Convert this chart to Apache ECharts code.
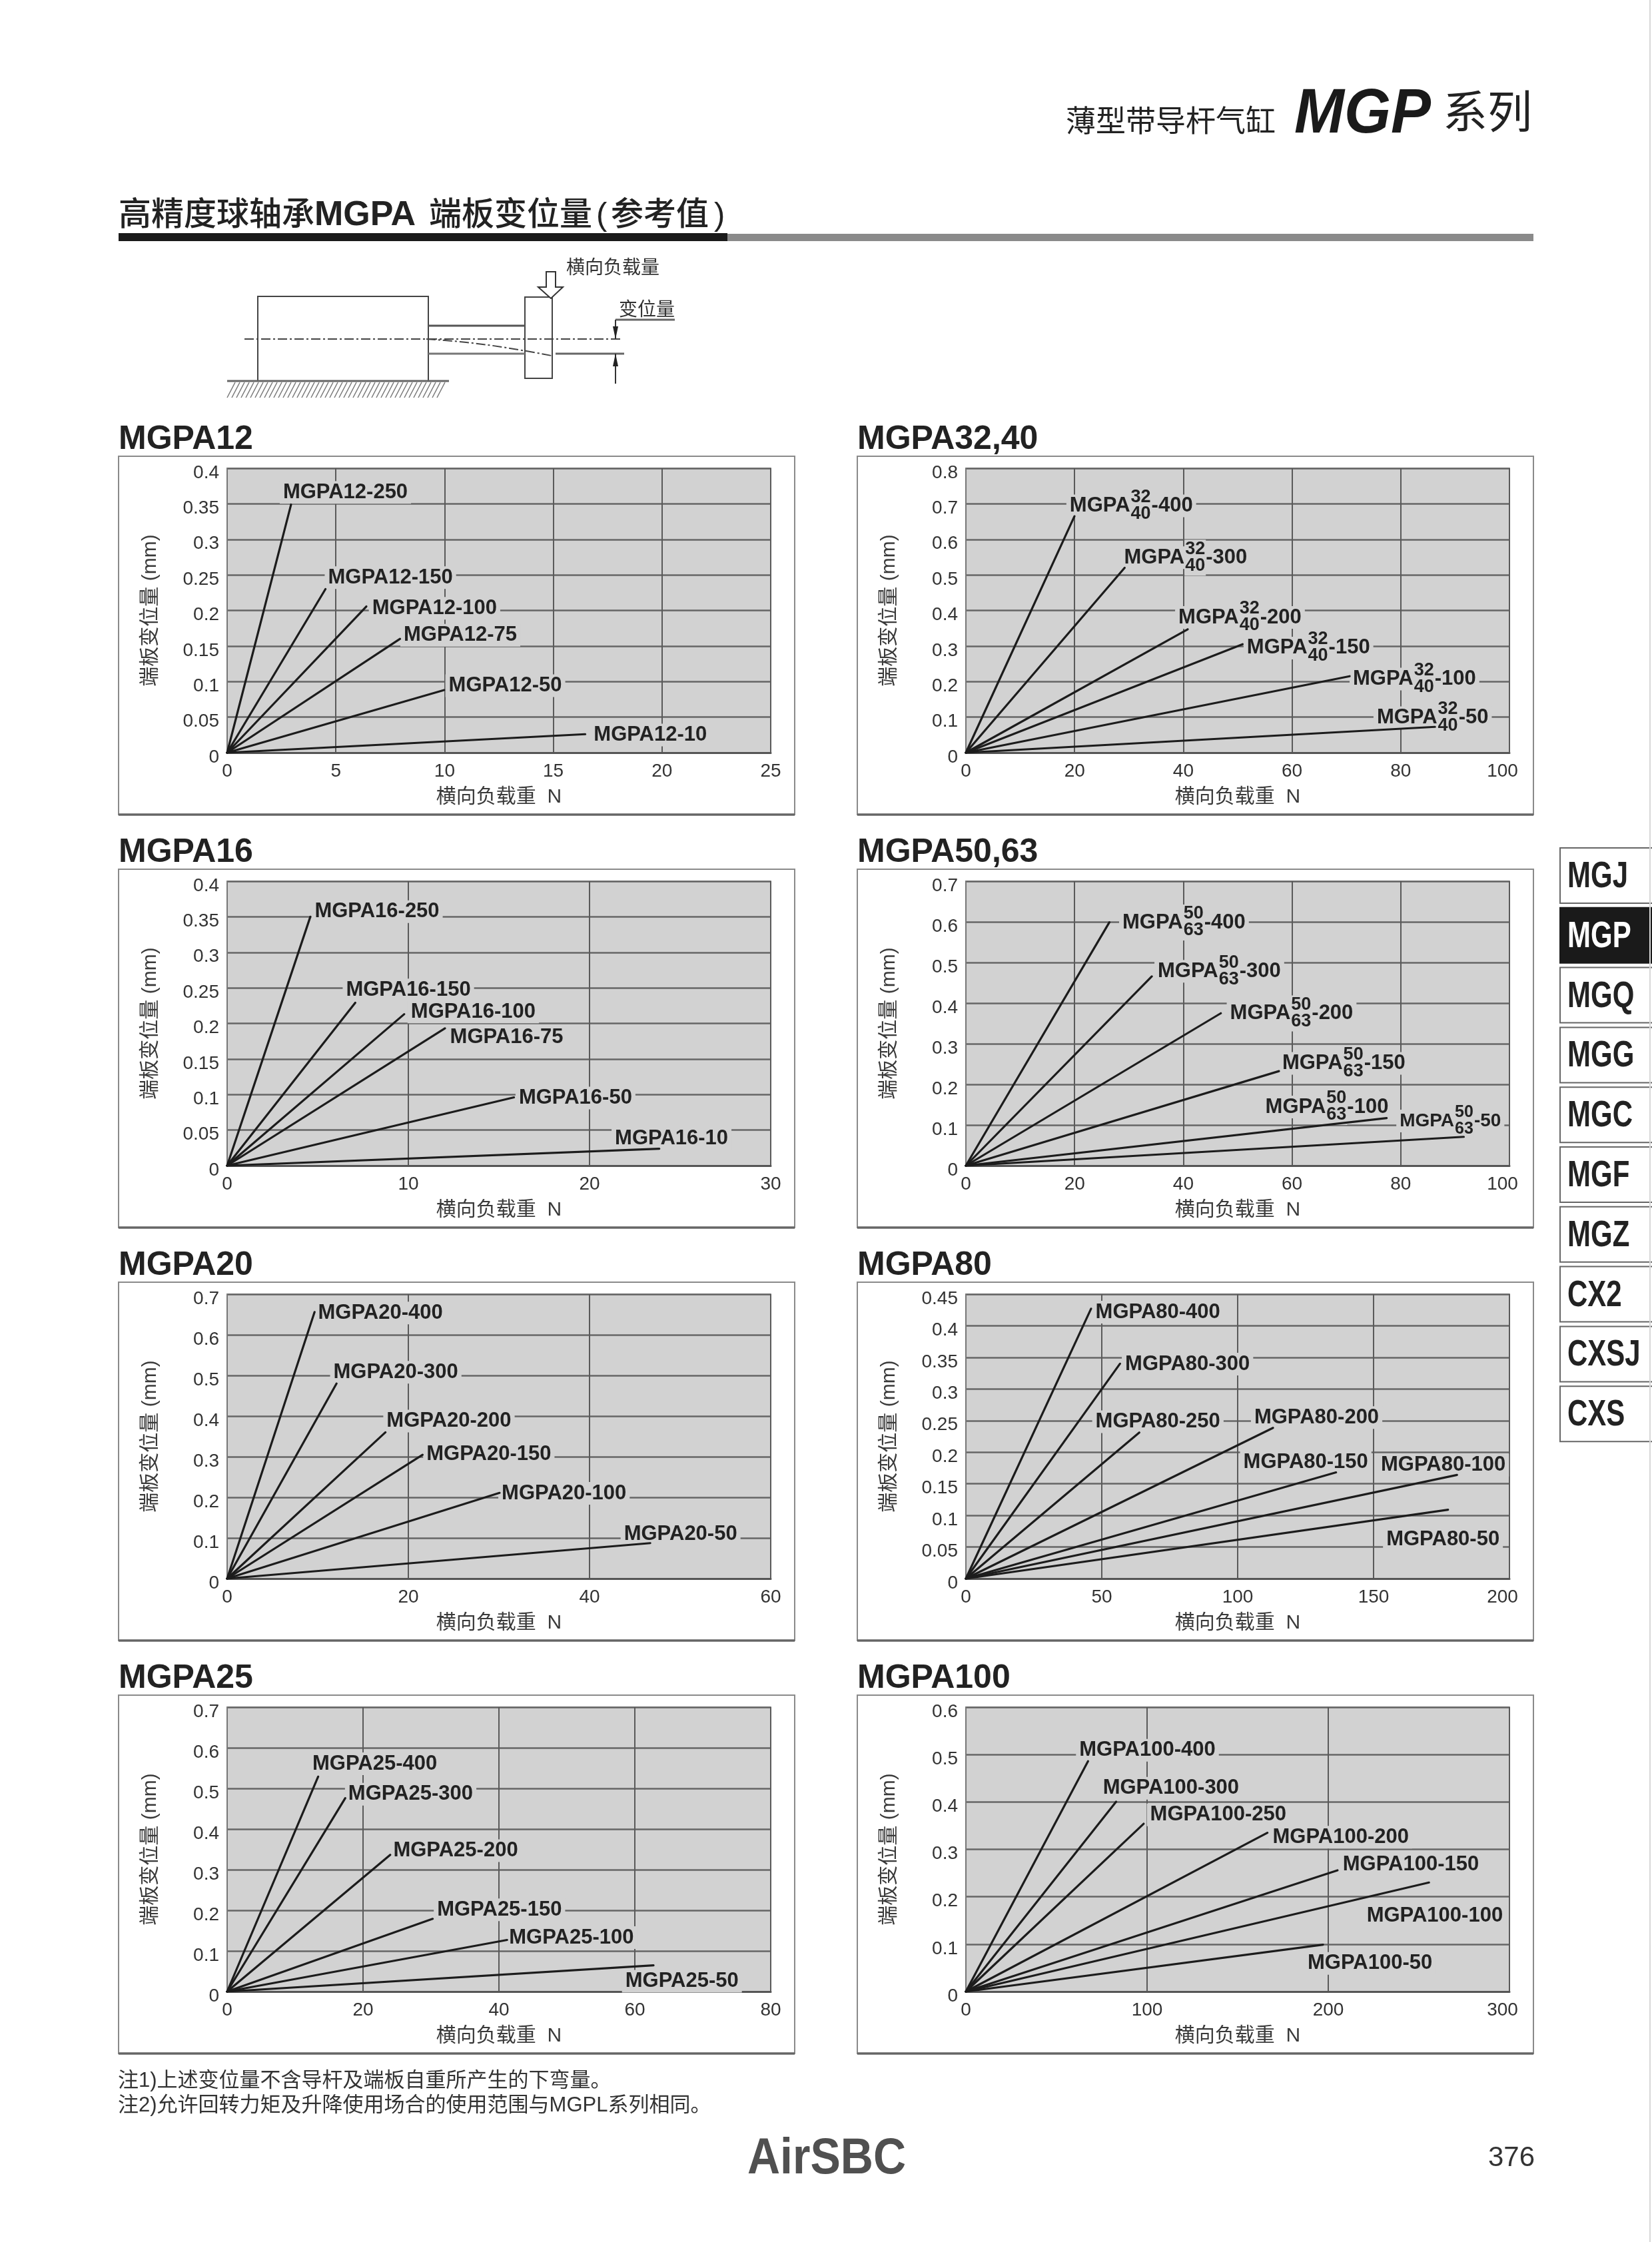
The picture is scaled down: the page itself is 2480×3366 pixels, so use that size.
<!DOCTYPE html>
<html>
<head>
<meta charset="utf-8">
<script src="https://cdn.jsdelivr.net/npm/echarts@6/dist/echarts.min.js"></script>
<style>html,body{margin:0;padding:0;background:#fff}#c{width:2480px;height:3366px}</style>
</head>
<body>
<div id="c"></div>
<script>
// ---- chart data ----
const mgpa12Strokes = [250, 150, 100, 75, 50, 10];
const mgpa12Load = [2.94, 4.52, 6.4, 7.95, 9.98, 16.47];
const mgpa12Disp = [0.349, 0.23, 0.2056, 0.16, 0.088, 0.026];
const mgpa12LabelX = [2.57, 4.64, 6.67, 8.12, 10.19, 16.86];
const mgpa12LabelY = [0.368, 0.248, 0.205, 0.167, 0.096, 0.0267];

const mgpa16Strokes = [250, 150, 100, 75, 50, 10];
const mgpa16Load = [4.59, 7.07, 9.77, 12.02, 15.83, 23.85];
const mgpa16Disp = [0.35, 0.229, 0.213, 0.193, 0.096, 0.0238];
const mgpa16LabelX = [4.83, 6.56, 10.14, 12.3, 16.1, 21.4];
const mgpa16LabelY = [0.359, 0.249, 0.218, 0.1825, 0.097, 0.04];

const mgpa20Strokes = [400, 300, 200, 150, 100, 50];
const mgpa20Load = [9.65, 12.07, 17.47, 21.57, 30.07, 46.7];
const mgpa20Disp = [0.656, 0.48, 0.36, 0.3046, 0.211, 0.0873];
const mgpa20LabelX = [10.04, 11.73, 17.6, 22, 30.3, 43.8];
const mgpa20LabelY = [0.657, 0.511, 0.391, 0.3087, 0.213, 0.113];

const mgpa25Strokes = [400, 300, 200, 150, 100, 50];
const mgpa25Load = [13.39, 17.38, 24, 30.25, 41.2, 62.75];
const mgpa25Disp = [0.529, 0.476, 0.3365, 0.179, 0.127, 0.0645];
const mgpa25LabelX = [12.55, 17.83, 24.45, 30.9, 41.5, 58.6];
const mgpa25LabelY = [0.564, 0.489, 0.35, 0.2046, 0.136, 0.0287];

const mgpa3240Strokes = [400, 300, 200, 150, 100, 50];
const mgpa3240Load = [19.97, 29.2, 40.8, 50.9, 70.6, 86.3];
const mgpa3240Disp = [0.665, 0.52, 0.347, 0.305, 0.215, 0.0726];
const mgpa3240LabelX = [19.1, 29.1, 39.1, 51.7, 71.2, 75.6];
const mgpa3240LabelY = [0.698, 0.552, 0.384, 0.298, 0.211, 0.102];

const mgpa5063Strokes = [400, 300, 200, 150, 100, 50];
const mgpa5063Load = [26.4, 34.2, 46.9, 57.6, 77.4, 91.6];
const mgpa5063Disp = [0.599, 0.4657, 0.375, 0.2326, 0.117, 0.0709];
const mgpa5063LabelX = [28.8, 35.3, 48.6, 58.2, 55.1, 79.8];
const mgpa5063LabelY = [0.6016, 0.4815, 0.378, 0.255, 0.1476, 0.113];

const mgpa80Strokes = [400, 300, 250, 200, 150, 100, 50];
const mgpa80Load = [46.05, 56.7, 63.8, 113, 136.2, 180.7, 177.4];
const mgpa80Disp = [0.427, 0.34, 0.231, 0.2385, 0.168, 0.164, 0.109];
const mgpa80LabelX = [47.7, 58.6, 47.7, 106.1, 102.1, 152.7, 154.7];
const mgpa80LabelY = [0.4236, 0.3415, 0.2504, 0.2568, 0.1864, 0.1815, 0.064];

const mgpa100Strokes = [400, 300, 250, 200, 150, 100, 50];
const mgpa100Load = [67.4, 82.9, 98.1, 166.4, 205.1, 255.6, 197.1];
const mgpa100Disp = [0.486, 0.4005, 0.354, 0.335, 0.2558, 0.23, 0.099];
const mgpa100LabelX = [62.6, 75.6, 101.7, 169.3, 208, 221.2, 188.6];
const mgpa100LabelY = [0.512, 0.4317, 0.3754, 0.3286, 0.271, 0.162, 0.0623];

const xAxisTitle = '横向负载重  N';
const yAxisTitle = '端板变位量 (mm)';
const tabLabels = ['MGJ', 'MGP', 'MGQ', 'MGG', 'MGC', 'MGF', 'MGZ', 'CX2', 'CXSJ', 'CXS'];

const panels = [
  {title:'MGPA12', prefix:'MGPA12', sup:null, sub:null, col:0, row:0, xMax:25, xStep:5, yMax:0.4, yStep:0.05, strokes:mgpa12Strokes, load:mgpa12Load, disp:mgpa12Disp, lx:mgpa12LabelX, ly:mgpa12LabelY},
  {title:'MGPA16', prefix:'MGPA16', sup:null, sub:null, col:0, row:1, xMax:30, xStep:10, yMax:0.4, yStep:0.05, strokes:mgpa16Strokes, load:mgpa16Load, disp:mgpa16Disp, lx:mgpa16LabelX, ly:mgpa16LabelY},
  {title:'MGPA20', prefix:'MGPA20', sup:null, sub:null, col:0, row:2, xMax:60, xStep:20, yMax:0.7, yStep:0.1, strokes:mgpa20Strokes, load:mgpa20Load, disp:mgpa20Disp, lx:mgpa20LabelX, ly:mgpa20LabelY},
  {title:'MGPA25', prefix:'MGPA25', sup:null, sub:null, col:0, row:3, xMax:80, xStep:20, yMax:0.7, yStep:0.1, strokes:mgpa25Strokes, load:mgpa25Load, disp:mgpa25Disp, lx:mgpa25LabelX, ly:mgpa25LabelY},
  {title:'MGPA32,40', prefix:'MGPA', sup:'32', sub:'40', col:1, row:0, xMax:100, xStep:20, yMax:0.8, yStep:0.1, strokes:mgpa3240Strokes, load:mgpa3240Load, disp:mgpa3240Disp, lx:mgpa3240LabelX, ly:mgpa3240LabelY},
  {title:'MGPA50,63', prefix:'MGPA', sup:'50', sub:'63', col:1, row:1, xMax:100, xStep:20, yMax:0.7, yStep:0.1, strokes:mgpa5063Strokes, load:mgpa5063Load, disp:mgpa5063Disp, lx:mgpa5063LabelX, ly:mgpa5063LabelY, smallStroke:50},
  {title:'MGPA80', prefix:'MGPA80', sup:null, sub:null, col:1, row:2, xMax:200, xStep:50, yMax:0.45, yStep:0.05, strokes:mgpa80Strokes, load:mgpa80Load, disp:mgpa80Disp, lx:mgpa80LabelX, ly:mgpa80LabelY},
  {title:'MGPA100', prefix:'MGPA100', sup:null, sub:null, col:1, row:3, xMax:300, xStep:100, yMax:0.6, yStep:0.1, strokes:mgpa100Strokes, load:mgpa100Load, disp:mgpa100Disp, lx:mgpa100LabelX, ly:mgpa100LabelY}
];

// ---- layout and style ----
const SANS = '"Liberation Sans","Noto Sans CJK SC",sans-serif';
const PLOT_BG = '#d2d2d2';
const panelLeft = [178, 1287], panelW = 1015, panelH = 538;
const panelTop = [685, 1305, 1925, 2545];
const plotLeft = [341, 1450], plotW = 816, plotTopOff = 18, plotH = 427;
const measureCtx = document.createElement('canvas').getContext('2d');
function textW(s, font) { measureCtx.font = font; return measureCtx.measureText(s).width; }

const grids = [], xAxes = [], yAxes = [], series = [], gfx = [];

function txt(x, y, text, fontSize, opts) {
  opts = opts || {};
  return {type:'text', x:x, y:y, z:opts.z || 5, scaleX:opts.sx || 1, scaleY:opts.sy || 1, rotation:opts.rot || 0,
    style:{text:text, x:0, y:0, font:(opts.weight || 'normal') + ' ' + (opts.italic ? 'italic ' : '') + fontSize + 'px ' + SANS,
      fill:opts.fill || '#333', textAlign:opts.align || 'left', textVerticalAlign:'middle'}};
}
function seg(x1, y1, x2, y2, color, w, dash) {
  return {type:'line', z:4, shape:{x1:x1, y1:y1, x2:x2, y2:y2}, style:{stroke:color, lineWidth:w, lineDash:dash || null}};
}
function box(x, y, w, h, fill, stroke, lw) {
  return {type:'rect', z:3, shape:{x:x, y:y, width:w, height:h}, style:{fill:fill || 'none', stroke:stroke || 'none', lineWidth:lw || 0}};
}

function labelRenderer(p) {
  return function (params, api) {
    const pt = api.coord([api.value(0), api.value(1)]);
    const i = params.dataIndex, x = pt[0], y = pt[1] + 2;
    const suffix = '-' + p.strokes[i];
    const small = p.smallStroke === p.strokes[i];
    const labelFont = 'bold ' + (small ? 28 : 31) + 'px ' + SANS;
    const fracFont = 'bold ' + (small ? 25 : 27) + 'px ' + SANS;
    const children = [];
    if (p.sup) {
      const w1 = textW(p.prefix, labelFont), fw = textW(p.sup, fracFont) + 2, w3 = textW(suffix, labelFont);
      children.push({type:'rect', shape:{x:x - 5, y:y - 17, width:w1 + fw + w3 + 10, height:34}, style:{fill:PLOT_BG}});
      children.push({type:'rect', shape:{x:x + w1, y:y - 27, width:fw, height:54}, style:{fill:PLOT_BG}});
      children.push({type:'text', style:{x:x, y:y, text:p.prefix, font:labelFont, fill:'#222', textAlign:'left', textVerticalAlign:'middle'}});
      children.push({type:'text', style:{x:x + w1 + fw / 2, y:y - 13, text:p.sup, font:fracFont, fill:'#222', textAlign:'center', textVerticalAlign:'middle'}});
      children.push({type:'text', style:{x:x + w1 + fw / 2, y:y + 12, text:p.sub, font:fracFont, fill:'#222', textAlign:'center', textVerticalAlign:'middle'}});
      children.push({type:'text', style:{x:x + w1 + fw, y:y, text:suffix, font:labelFont, fill:'#222', textAlign:'left', textVerticalAlign:'middle'}});
    } else {
      const s = p.prefix + suffix, w = textW(s, labelFont);
      children.push({type:'rect', shape:{x:x - 5, y:y - 17, width:w + 10, height:34}, style:{fill:PLOT_BG}});
      children.push({type:'text', style:{x:x, y:y, text:s, font:labelFont, fill:'#222', textAlign:'left', textVerticalAlign:'middle'}});
    }
    return {type:'group', children:children};
  };
}

panels.forEach(function (p, k) {
  const top = panelTop[p.row];
  grids.push({left:plotLeft[p.col], top:top + plotTopOff, width:plotW, height:plotH, show:true,
    backgroundColor:PLOT_BG, borderColor:'#8a8a8a', borderWidth:2, containLabel:false});
  xAxes.push({type:'value', gridIndex:k, min:0, max:p.xMax, interval:p.xStep,
    name:xAxisTitle, nameLocation:'middle', nameGap:52,
    nameTextStyle:{fontFamily:SANS, fontSize:30, color:'#3a3a3a'},
    axisLine:{show:true, onZero:false, lineStyle:{color:'#555', width:3}}, axisTick:{show:false},
    axisLabel:{fontFamily:SANS, fontSize:28, color:'#333', margin:14,
      // the right-hand column pulls its last tick label in from the plot edge
      formatter:function (v) { return (p.col === 1 && v === p.xMax) ? '{last|' + v + '}' : String(v); },
      rich:{last:{fontFamily:SANS, fontSize:28, color:'#333', padding:[0, 21, 0, 0]}}},
    splitLine:{show:true, lineStyle:{color:'#5a5a5a', width:2}}});
  yAxes.push({type:'value', gridIndex:k, min:0, max:p.yMax, interval:p.yStep,
    name:yAxisTitle, nameLocation:'middle', nameGap:100, nameRotate:90,
    nameTextStyle:{fontFamily:SANS, fontSize:30, color:'#3a3a3a'},
    axisLine:{show:true, onZero:false, lineStyle:{color:'#777', width:2}}, axisTick:{show:false},
    axisLabel:{fontFamily:SANS, fontSize:28, color:'#333', margin:12, verticalAlign:'top', lineHeight:14},
    splitLine:{show:true, lineStyle:{color:'#666', width:2.5}}});

  const labelData = [];
  p.strokes.forEach(function (st, i) {
    series.push({type:'line', name:p.prefix + (p.sup ? p.sup + '/' + p.sub : '') + '-' + st,
      xAxisIndex:k, yAxisIndex:k, z:3, showSymbol:false, symbol:'none', silent:true, animation:false,
      lineStyle:{color:'#1c1c1c', width:3.2, cap:'round'},
      data:[[0, 0], [p.load[i], p.disp[i]]]});
    labelData.push([p.lx[i], p.ly[i]]);
  });
  series.push({type:'custom', name:p.title + ' labels', xAxisIndex:k, yAxisIndex:k, z:1, silent:true, animation:false,
    encode:{x:0, y:1}, renderItem:labelRenderer(p), data:labelData});

  // panel frame and heading
  gfx.push(box(panelLeft[p.col], top, panelW, panelH, null, '#8a8a8a', 2));
  gfx.push(seg(panelLeft[p.col], top + panelH, panelLeft[p.col] + panelW, top + panelH, '#666', 3.5));
  gfx.push(txt(panelLeft[p.col], top - 25, p.title, 50, {weight:'bold', fill:'#222'}));
});

// ---- page furniture ----
gfx.push(txt(1600, 186, '薄型带导杆气缸', 45, {fill:'#222'}));
gfx.push(txt(1943, 173, 'MGP', 90, {weight:'bold', italic:true, fill:'#1a1a1a', sy:1.05}));
gfx.push(txt(2166, 174, '系列', 67, {fill:'#222'}));
gfx.push({type:'text', x:178, y:324, z:5, style:{text:'高精度球轴承', x:0, y:0, font:'500 49px ' + SANS, fill:'#222', textAlign:'left', textVerticalAlign:'middle'}});
gfx.push({type:'text', x:472, y:324, z:5, style:{text:'MGPA', x:0, y:0, font:'bold 52px ' + SANS, fill:'#222', textAlign:'left', textVerticalAlign:'middle'}});
gfx.push({type:'text', x:644, y:324, z:5, style:{text:'端板变位量', x:0, y:0, font:'500 49px ' + SANS, fill:'#222', textAlign:'left', textVerticalAlign:'middle'}});
gfx.push({type:'text', x:895, y:324, z:5, style:{text:'(', x:0, y:0, font:'500 49px ' + SANS, fill:'#222', textAlign:'left', textVerticalAlign:'middle'}});
gfx.push({type:'text', x:917, y:324, z:5, style:{text:'参考值', x:0, y:0, font:'500 49px ' + SANS, fill:'#222', textAlign:'left', textVerticalAlign:'middle'}});
gfx.push({type:'text', x:1072, y:324, z:5, style:{text:')', x:0, y:0, font:'500 49px ' + SANS, fill:'#222', textAlign:'left', textVerticalAlign:'middle'}});
gfx.push(box(178, 350, 914, 12, '#1a1a1a'));
gfx.push(box(1092, 351, 1210, 11, '#8a8a8a'));

// schematic
gfx.push(box(387, 445, 256, 127, '#fff', '#444', 2));
gfx.push(seg(643, 489, 788, 489, '#555', 3));
gfx.push(seg(643, 531, 788, 531, '#777', 3));
gfx.push(box(788, 446, 41, 122, '#fff', '#444', 2));
gfx.push(seg(367, 509, 933, 509, '#444', 2, [14, 4, 3, 4]));
gfx.push({type:'polyline', z:4, shape:{points:[[640, 509], [700, 514], [760, 522], [828, 534]], smooth:0.4},
  style:{stroke:'#444', fill:'none', lineWidth:2, lineDash:[14, 4, 3, 4]}});
gfx.push(seg(834, 531, 937, 531, '#666', 3));
gfx.push(seg(341, 572, 674, 572, '#666', 3));
for (let hx = 341; hx < 662; hx += 7) gfx.push(seg(hx, 597, hx + 12, 574, '#777', 1.5));
gfx.push({type:'polygon', z:4, shape:{points:[[820, 408], [834, 408], [834, 431], [845, 431], [827, 448], [808, 431], [820, 431]]},
  style:{fill:'#fff', stroke:'#333', lineWidth:2}});
gfx.push(txt(850, 403, '横向负载量', 28, {fill:'#333'}));
gfx.push(txt(929, 466, '变位量', 28, {fill:'#333'}));
gfx.push(seg(924, 480, 1013, 480, '#666', 3));
gfx.push(seg(924, 480, 924, 509, '#333', 2));
gfx.push(seg(924, 531, 924, 576, '#333', 2));
gfx.push({type:'polygon', z:4, shape:{points:[[924, 509], [920, 490], [928, 490]]}, style:{fill:'#222'}});
gfx.push({type:'polygon', z:4, shape:{points:[[924, 531], [920, 550], [928, 550]]}, style:{fill:'#222'}});

// side tabs
tabLabels.forEach(function (t, i) {
  const y = 1273 + i * 89.8, on = t === 'MGP';
  gfx.push(box(2342, y, 150, 83, on ? '#1a1a1a' : '#fff', on ? '#1a1a1a' : '#666', 2));
  gfx.push(txt(2353, y + 44, t, 42, {weight:'bold', fill:on ? '#fff' : '#222', sy:1.3}));
});
gfx.push(seg(2477, 0, 2477, 3366, '#d8d8d8', 2));

// footer
gfx.push(txt(177, 3124, '注1)上述变位量不含导杆及端板自重所产生的下弯量。', 31, {fill:'#333'}));
gfx.push(txt(177, 3161, '注2)允许回转力矩及升降使用场合的使用范围与MGPL系列相同。', 31, {fill:'#333'}));
gfx.push(txt(1122, 3242, 'AirSBC', 68, {weight:'bold', fill:'#505050', sy:1.12}));
gfx.push(txt(2304, 3240, '376', 42, {fill:'#333', align:'right'}));

const chart = echarts.init(document.getElementById('c'), null, {width:2480, height:3366});
chart.setOption({
  animation:false, backgroundColor:'#fff',
  grid:grids, xAxis:xAxes, yAxis:yAxes, series:series,
  graphic:{elements:gfx}
});
</script>
</body>
</html>
